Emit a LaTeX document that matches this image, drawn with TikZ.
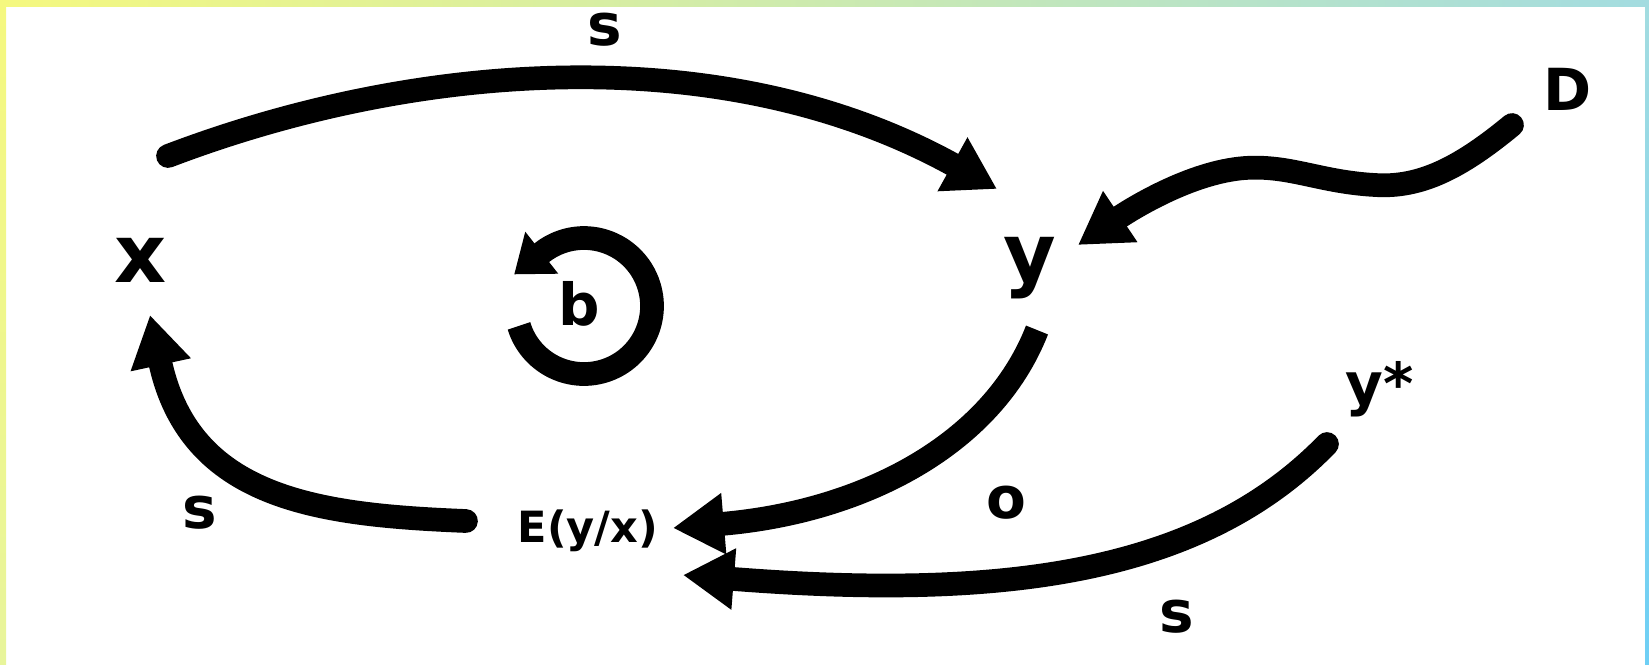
\documentclass[tikz,border=0pt]{standalone}
\usepackage{fontspec}
\setmainfont{DejaVu Sans}
\usepackage{tikz}
\usepackage{xcolor}
\usetikzlibrary{arrows.meta,calc}

\definecolor{bordyel}{HTML}{F5F87F}
\definecolor{bordyeldark}{HTML}{E8F59B}
\definecolor{bordcyan}{HTML}{A3DCE0}
\definecolor{bordblue}{HTML}{6ECFF5}

\begin{document}
\begin{tikzpicture}[x=0.02cm, y=-0.02cm,
    big/.style={anchor=base, inner sep=0pt, font=\fontsize{46}{50}\selectfont\bfseries},
    mid/.style={anchor=base, inner sep=0pt, font=\fontsize{33}{38}\selectfont\bfseries},
    small/.style={anchor=base, inner sep=0pt, font=\fontsize{24.5}{27}\selectfont\bfseries},
    conn/.style={line width=13.5pt, line cap=round,
        -{Triangle[length=29pt, width=33pt]}}]
    \useasboundingbox (0,0) rectangle (1649,664);
    % frame
    \fill[left color=bordyel, right color=bordcyan] (0,0) rectangle (1649,6);
    \fill[top color=bordyel, bottom color=bordyeldark] (0,0) rectangle (6,664);
    \fill[top color=bordcyan, bottom color=bordblue] (1645,0) rectangle (1649,664);

    % variables
    \node[big] (x) at (141,282) {x};
    \node[big] (y) at (1030,281) {y};
    \node[mid] (D) at (1568,110) {D};
    \node[mid] (ystar) at (1380,404) {y*};
    \node[small] (E) at (588,542) {E(y/x)};
    \node[mid] (b) at (579,325) {b};

    % labels of the links
    \node[mid] (s1) at (605,45) {s};
    \node[mid] (s2) at (200,528) {s};
    \node[mid] (o) at (1006,518) {o};
    \node[mid] (s3) at (1177,632) {s};

    % links
    \draw[conn] ([shift={(27,-126)}]x.base) .. controls +(252,-96) and +(-270,-150) .. ([shift={(-33,-92)}]y.base);
    \draw[conn] ([shift={(-56,15)}]D.base) .. controls (1460,168) and (1420,188) .. (1375,185)
        .. controls (1320,182) and (1290,165) .. (1245,168)
        .. controls (1190,172) and (1130,210) .. ([shift={(48,-36)}]y.base);
    \draw[conn, line cap=butt] ([shift={(7,49)}]y.base) .. controls +(-45,115) and +(190,-16) .. ([shift={(85,-14)}]E.base);
    \draw[conn] ([shift={(-122,-21)}]E.base) .. controls +(-146,-6) and +(40,185) .. ([shift={(9,33)}]x.base);
    \draw[conn] ([shift={(-53,40)}]ystar.base) .. controls +(-127,131) and +(317,25) .. ([shift={(95,33)}]E.base);

    % loop round b
    \draw[line width=13.5pt, -{Triangle[length=20pt, width=29pt]}]
        ([shift={(5,-19)}]b.base) ++(163:68) arc[start angle=163, end angle=-128, radius=68] -- ++(-28,22);
\end{tikzpicture}
\end{document}
